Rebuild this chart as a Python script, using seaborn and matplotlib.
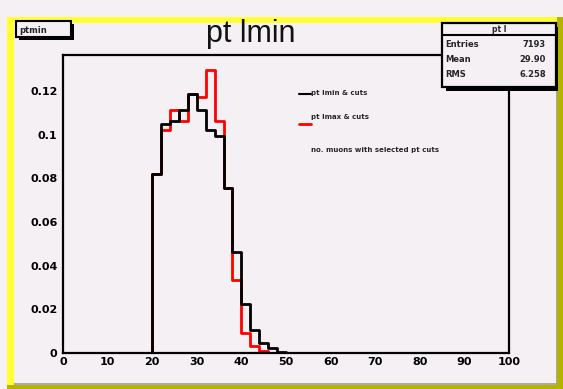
import numpy as np
import pandas as pd
import matplotlib
matplotlib.use("Agg")
import matplotlib.pyplot as plt
import seaborn as sns
from matplotlib.patches import Rectangle
from matplotlib.lines import Line2D
from matplotlib.ticker import MultipleLocator

# Histogram bins: 0..100 in steps of 2
bin_edges = list(range(0, 102, 2))

# Lower edges of the populated bins and the normalised contents
low_edges = [20, 22, 24, 26, 28, 30, 32, 34, 36, 38, 40, 42, 44, 46, 48]
black_vals = [0.0822, 0.1048, 0.1062, 0.1116, 0.1186, 0.1116, 0.1021, 0.0993,
              0.0756, 0.0464, 0.0224, 0.0104, 0.0046, 0.0021, 0.0005]
red_vals = [0.0822, 0.1021, 0.1116, 0.1062, 0.1186, 0.1172, 0.1297, 0.1062,
            0.0756, 0.0336, 0.0092, 0.0032, 0.0007, 0.0, 0.0]

x_ticks = [0, 10, 20, 30, 40, 50, 60, 70, 80, 90, 100]
y_ticks = [0, 0.02, 0.04, 0.06, 0.08, 0.10, 0.12]
y_tick_labels = ["0", "0.02", "0.04", "0.06", "0.08", "0.1", "0.12"]

title_text = "pt lmin"
name_text = "ptmin"
legend_texts = ["pt lmin & cuts", "pt lmax & cuts", "no. muons with selected pt cuts"]
stats_title = "pt l"
stats_rows = [("Entries", "7193"), ("Mean", "29.90"), ("RMS", "6.258")]

BG = "#f4f0f4"
W, H = 563, 389

sns.set_theme(style="white")
plt.rcParams["font.family"] = ["DejaVu Sans"]

fig = plt.figure(figsize=(W / 100, H / 100), dpi=100, facecolor=BG)

# Background layer in pixel coordinates: pad frame with bevel
bg = fig.add_axes([0, 0, 1, 1], zorder=0)
bg.set_xlim(0, W)
bg.set_ylim(H, 0)
bg.axis("off")
bg.add_patch(Rectangle((7, 17), W - 7, H - 17, facecolor="#ffff33", edgecolor="none"))
bg.add_patch(Rectangle((557, 17), 6, H - 17, facecolor="#b4b400", edgecolor="none"))
bg.add_patch(Rectangle((7, 385), W - 7, 4, facecolor="#b4b400", edgecolor="none"))
bg.add_patch(Rectangle((14, 23), 543, 362, facecolor="#a8a8ac", edgecolor="none"))
bg.add_patch(Rectangle((14, 23), 542, 360, facecolor=BG, edgecolor="none"))

# Main histogram axes
x0, x1, ytop, ybot = 63, 509, 55, 353
ax = fig.add_axes([x0 / W, 1 - ybot / H, (x1 - x0) / W, (ybot - ytop) / H], zorder=1)
ax.set_facecolor("none")

centers = [e + 1 for e in low_edges]
df = pd.DataFrame({"x": centers + centers,
                   "w": red_vals + black_vals,
                   "set": ["red"] * len(centers) + ["black"] * len(centers)})
for name, col in [("red", "#ff0000"), ("black", "#000000")]:
    sub = df[df["set"] == name]
    sns.histplot(data=sub, x="x", weights="w", bins=bin_edges, element="step",
                 fill=False, color=col, linewidth=2.0, ax=ax)

ax.set_xlim(0, 100)
ax.set_ylim(0, 0.1366)
ax.set_xlabel("")
ax.set_ylabel("")
ax.set_xticks(x_ticks)
ax.set_xticklabels([str(t) for t in x_ticks])
ax.set_yticks(y_ticks)
ax.set_yticklabels(y_tick_labels)
ax.xaxis.set_minor_locator(MultipleLocator(2))
ax.yaxis.set_minor_locator(MultipleLocator(0.004))
ax.tick_params(axis="both", which="both", direction="in", colors="black",
               top=False, right=False, width=1.5)
ax.tick_params(axis="y", which="major", length=10, pad=4, labelsize=8)
ax.tick_params(axis="y", which="minor", length=5.5)
ax.tick_params(axis="x", which="major", length=7, pad=3, labelsize=8)
ax.tick_params(axis="x", which="minor", length=4.5)
for lab in ax.get_xticklabels() + ax.get_yticklabels():
    lab.set_fontweight("bold")
for s in ax.spines.values():
    s.set_color("black")
    s.set_linewidth(1.6)

# Foreground layer: title, name box, legend and statistics box
fg = fig.add_axes([0, 0, 1, 1], zorder=2)
fg.set_xlim(0, W)
fg.set_ylim(H, 0)
fg.axis("off")
fg.patch.set_alpha(0)

fg.text(251, 42, title_text, family=["Liberation Sans", "DejaVu Sans"],
        fontsize=22, ha="center", va="baseline", color="#111111")

# name box (top left)
fg.add_patch(Rectangle((19, 24), 55, 16, facecolor="black", edgecolor="none"))
fg.add_patch(Rectangle((16, 21), 55, 16, facecolor=BG, edgecolor="black", linewidth=1.5))
fg.text(19, 30, name_text, fontsize=6, fontweight="bold", ha="left", va="center")

# legend entries
fg.add_line(Line2D([299, 311], [94, 94], color="black", linewidth=1.5))
fg.text(311, 93, legend_texts[0], fontsize=5, fontweight="bold", ha="left", va="center")
fg.add_line(Line2D([299, 311], [124, 124], color="#ff0000", linewidth=2))
fg.text(311, 117, legend_texts[1], fontsize=5, fontweight="bold", ha="left", va="center")
fg.text(311, 150, legend_texts[2], fontsize=5, fontweight="bold", ha="left", va="center")

# statistics box (top right)
fg.add_patch(Rectangle((446, 27), 112, 64, facecolor="black", edgecolor="none"))
fg.add_patch(Rectangle((442, 23), 114, 64, facecolor=BG, edgecolor="black", linewidth=1.6))
fg.add_line(Line2D([442, 556], [35, 35], color="black", linewidth=1.5))
fg.text(499, 29, stats_title, fontsize=5.5, fontweight="bold", ha="center", va="center")
for i, (k, v) in enumerate(stats_rows):
    yy = 44 + i * 15
    fg.text(445, yy, k, fontsize=6, fontweight="bold", ha="left", va="center")
    fg.text(546, yy, v, fontsize=6, fontweight="bold", ha="right", va="center")

fig.savefig("out.png", dpi=100, facecolor=BG)
